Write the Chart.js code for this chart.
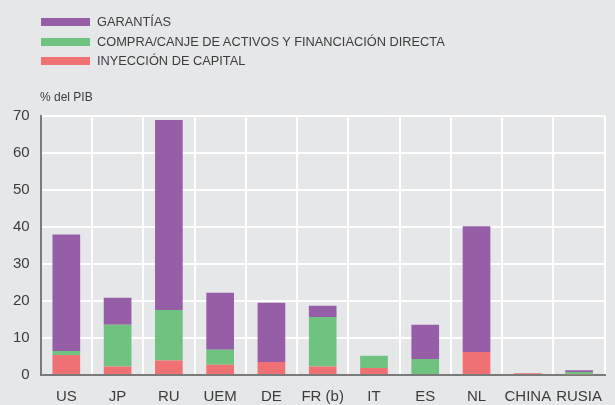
<!DOCTYPE html>
<html>
<head>
<meta charset="utf-8">
<script src="https://cdn.jsdelivr.net/npm/chart.js@4.4.0/dist/chart.umd.min.js"></script>
<style>
  html, body { margin: 0; padding: 0; background: #e6e7e9; }
  body { width: 615px; height: 405px; position: relative; overflow: hidden;
         font-family: "Liberation Sans", Arial, sans-serif; color: #3c3c3c; }
  #legend { position: absolute; left: 41px; top: 12px; font-size: 12.8px; }
  #legend div { height: 19.5px; line-height: 19.5px; white-space: nowrap; }
  #legend span.box { display: inline-block; width: 49px; height: 8px; margin-right: 7px; vertical-align: 0px; }
  #unit { position: absolute; left: 40px; top: 90px; font-size: 12px; }
  #wrap { position: absolute; left: 0; top: 0; width: 615px; height: 405px; }
</style>
</head>
<body>
<div id="wrap"><canvas id="myChart" width="615" height="405"></canvas></div>
<div id="legend"></div>
<div id="unit">% del PIB</div>
<script>
var countries = ["US", "JP", "RU", "UEM", "DE", "FR (b)", "IT", "ES", "NL", "CHINA", "RUSIA"];

var capital   = [5.4, 2.3, 3.9, 2.8, 3.5, 2.3, 1.9, 0.0, 6.2, 0.5, 0.2];
var compra    = [1.1, 11.3, 13.7, 4.0, 0.0, 13.4, 3.3, 4.3, 0.0, 0.0, 0.6];
var garantias = [31.5, 7.3, 51.3, 15.4, 16.0, 3.0, 0.0, 9.3, 34.0, 0.0, 0.5];

var yTicks = [0, 10, 20, 30, 40, 50, 60, 70];

var colors = {
    capital: '#f07174',
    compra: '#6fc280',
    garantias: '#955ea7'
};

var datasets = [
    { label: 'INYECCIÓN DE CAPITAL', data: capital, backgroundColor: colors.capital },
    { label: 'COMPRA/CANJE DE ACTIVOS Y FINANCIACIÓN DIRECTA', data: compra, backgroundColor: colors.compra },
    { label: 'GARANTÍAS', data: garantias, backgroundColor: colors.garantias }
];

// legend shows the top of the stack first
function drawLegend()
{
    var html = "";
    for (var i = datasets.length - 1; i >= 0; i--)
    {
        html += '<div><span class="box" style="background:' + datasets[i].backgroundColor + '"></span>' + datasets[i].label + '</div>';
    }
    document.querySelector("#legend").innerHTML = html;
}

function drawChart()
{
    var ctx = document.getElementById('myChart').getContext('2d');

    new Chart(ctx, {
        type: 'bar',
        data: {
            labels: countries,
            datasets: datasets.map(function (d) {
                return {
                    label: d.label,
                    data: d.data,
                    backgroundColor: d.backgroundColor,
                    borderWidth: 0,
                    barPercentage: 0.54,
                    categoryPercentage: 1.0
                };
            })
        },
        options: {
            responsive: false,
            animation: false,
            layout: { padding: { top: 116, right: 0, left: 2, bottom: -14 } },
            plugins: {
                legend: { display: false },
                tooltip: { enabled: false }
            },
            scales: {
                x: {
                    stacked: true,
                    grid: { color: '#ffffff', lineWidth: 2, drawTicks: false, offset: true },
                    border: { color: '#7a7a7a', width: 2 },
                    ticks: { color: '#3c3c3c', padding: 13, font: { family: 'Liberation Sans', size: 15 }, maxRotation: 0, autoSkip: false }
                },
                y: {
                    stacked: true,
                    min: 0,
                    max: 70,
                    afterBuildTicks: function (axis) {
                        axis.ticks = yTicks.map(function (v) { return { value: v }; });
                    },
                    grid: { color: '#ffffff', lineWidth: 2, drawTicks: false },
                    border: { color: '#7a7a7a', width: 2 },
                    ticks: { color: '#3c3c3c', padding: 11, font: { family: 'Liberation Sans', size: 15 } }
                }
            }
        }
    });
}

window.onload = function () {
    drawLegend();
    drawChart();
};
</script>
</body>
</html>
